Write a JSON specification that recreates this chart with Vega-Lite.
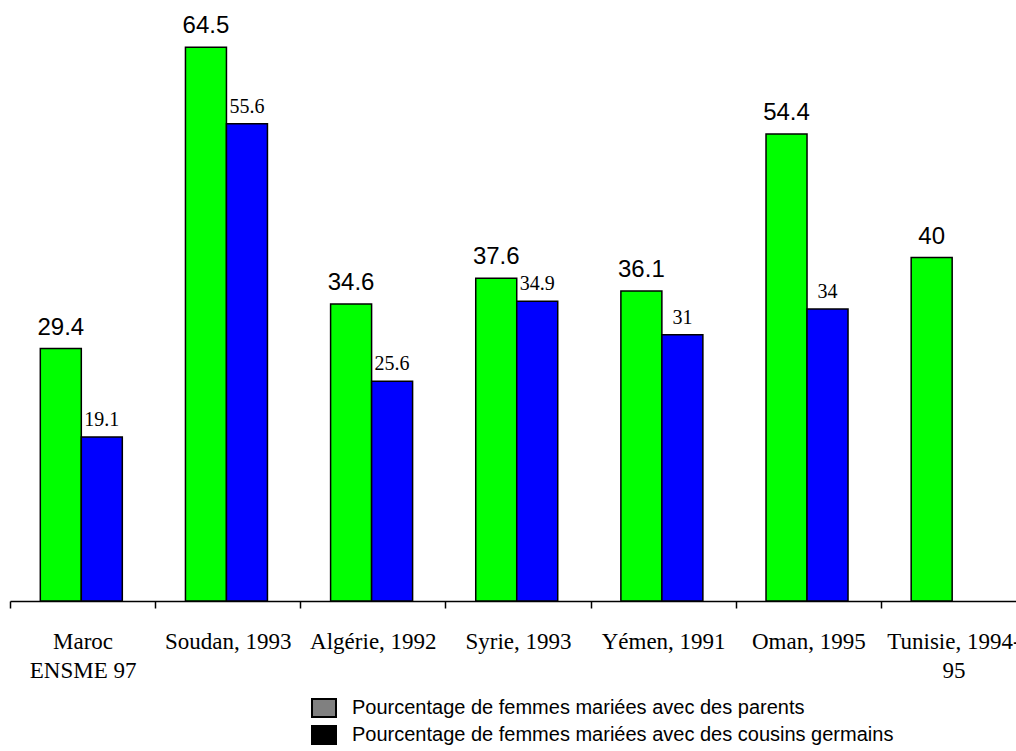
{
  "$schema": "https://vega.github.io/schema/vega-lite/v6.json",
  "width": 1006,
  "height": 601,
  "autosize": {"type": "none"},
  "padding": {"left": 10, "top": 0, "right": 0, "bottom": 150},
  "background": "white",
  "config": {
    "view": {"stroke": null},
    "axis": {
      "domainColor": "black",
      "domainWidth": 1.5,
      "tickColor": "black",
      "tickWidth": 1.5,
      "tickSize": 7,
      "tickBand": "extent",
      "labelFont": "Liberation Serif",
      "labelFontSize": 23,
      "labelColor": "black",
      "labelPadding": 22,
      "labelLineHeight": 29,
      "labelAngle": 0,
      "labelOverlap": false,
      "labelBound": false,
      "labelFlush": false,
      "labelLimit": 0,
      "grid": false
    }
  },
  "data": {
    "values": [
      {"country": "Maroc|ENSME 97", "series": "parents", "value": 29.4},
      {"country": "Maroc|ENSME 97", "series": "cousins germains", "value": 19.1},
      {"country": "Soudan, 1993", "series": "parents", "value": 64.5},
      {"country": "Soudan, 1993", "series": "cousins germains", "value": 55.6},
      {"country": "Algérie, 1992", "series": "parents", "value": 34.6},
      {"country": "Algérie, 1992", "series": "cousins germains", "value": 25.6},
      {"country": "Syrie, 1993", "series": "parents", "value": 37.6},
      {"country": "Syrie, 1993", "series": "cousins germains", "value": 34.9},
      {"country": "Yémen, 1991", "series": "parents", "value": 36.1},
      {"country": "Yémen, 1991", "series": "cousins germains", "value": 31},
      {"country": "Oman, 1995", "series": "parents", "value": 54.4},
      {"country": "Oman, 1995", "series": "cousins germains", "value": 34},
      {"country": "Tunisie, 1994-|95", "series": "parents", "value": 40}
    ]
  },
  "encoding": {
    "x": {
      "field": "country",
      "type": "nominal",
      "sort": null,
      "scale": {"range": [0, 1016], "paddingInner": 0, "paddingOuter": 0},
      "axis": {"title": null, "labelExpr": "split(datum.label, '|')"}
    },
    "xOffset": {
      "field": "series",
      "type": "nominal",
      "scale": {"domain": ["parents", "cousins germains"], "paddingInner": 0, "paddingOuter": 0.77, "align": 0.48}
    },
    "y": {
      "field": "value",
      "type": "quantitative",
      "scale": {"domain": [0, 70], "nice": false},
      "axis": null
    }
  },
  "layer": [
    {
      "transform": [{"filter": "datum.series === 'parents'"}],
      "mark": {"type": "bar", "fill": "#00ff00", "stroke": "black", "strokeWidth": 1.5}
    },
    {
      "transform": [{"filter": "datum.series === 'cousins germains'"}],
      "mark": {"type": "bar", "fill": "#0000ff", "stroke": "black", "strokeWidth": 1.5}
    },
    {
      "transform": [{"filter": "datum.series === 'parents'"}],
      "mark": {"type": "text", "font": "Liberation Sans", "fontSize": 24, "dy": -14, "baseline": "alphabetic", "color": "black"},
      "encoding": {"text": {"field": "value", "type": "nominal"}}
    },
    {
      "transform": [{"filter": "datum.series === 'cousins germains'"}],
      "mark": {"type": "text", "font": "Liberation Serif", "fontSize": 20, "dy": -11, "baseline": "alphabetic", "color": "black"},
      "encoding": {"text": {"field": "value", "type": "nominal"}}
    },
    {
      "mark": {"type": "point", "filled": true, "opacity": 0},
      "encoding": {
        "fill": {
          "field": "series",
          "type": "nominal",
          "scale": {"domain": ["parents", "cousins germains"], "range": ["#808080", "#000000"]},
          "legend": {
            "orient": "none",
            "legendX": 303,
            "legendY": 697,
            "title": null,
            "padding": 0,
            "symbolType": "M-1.2,-0.9H1.2V0.9H-1.2Z",
            "symbolSize": 400,
            "symbolStrokeColor": "#000000",
            "symbolStrokeWidth": 2,
            "symbolOpacity": 1,
            "labelFont": "Liberation Sans",
            "labelFontSize": 20,
            "labelColor": "black",
            "labelOffset": 17,
            "labelLimit": 0,
            "rowPadding": 1,
            "labelExpr": "'Pourcentage de femmes mariées avec des ' + datum.label"
          }
        }
      }
    }
  ]
}
